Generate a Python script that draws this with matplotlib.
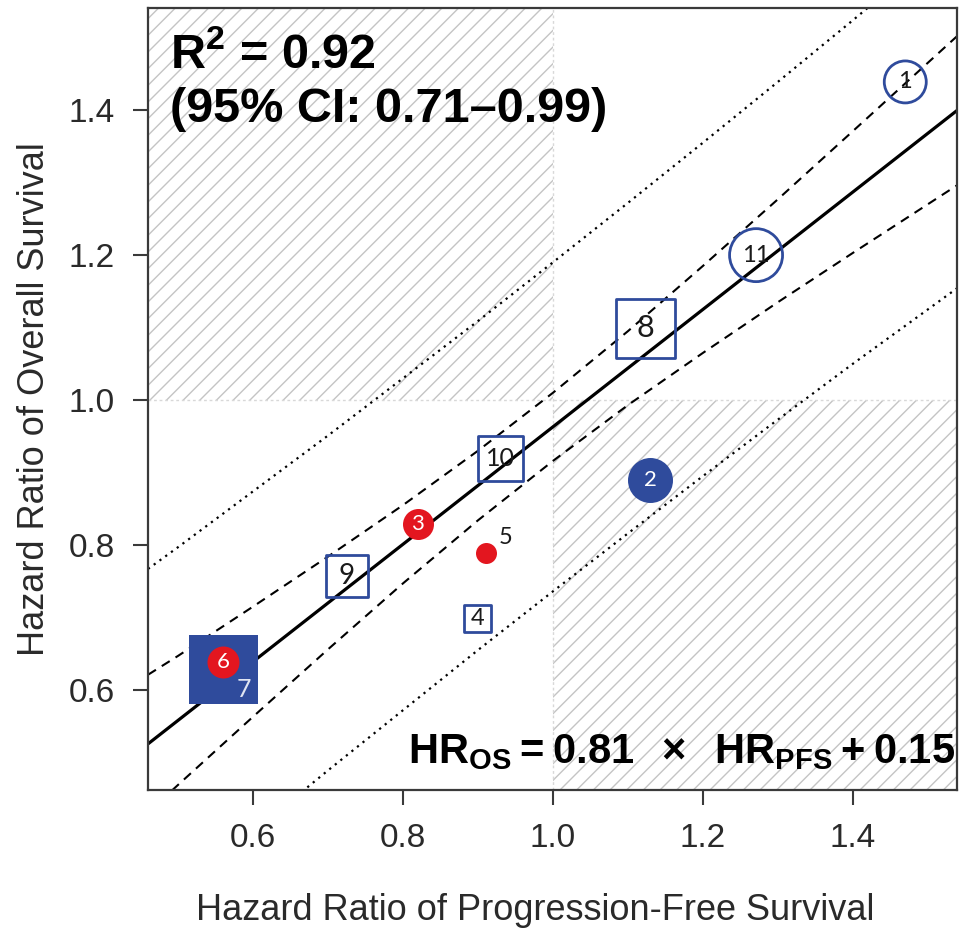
import matplotlib
matplotlib.use('Agg')
import matplotlib.pyplot as plt

plt.rcParams['font.family'] = ['Liberation Sans', 'DejaVu Sans']
plt.rcParams['mathtext.fontset'] = 'custom'
plt.rcParams['mathtext.rm'] = 'Liberation Sans'
plt.rcParams['mathtext.bf'] = 'Liberation Sans:bold'
plt.rcParams['hatch.linewidth'] = 1.0

#---------------------DATA---------------------#
study_id = ['1', '2', '3', '4', '5', '6', '7', '8', '9', '10', '11']
hr_pfs = [1.470, 1.130, 0.820, 0.900, 0.911, 0.560, 0.560, 1.124, 0.725, 0.930, 1.271]
hr_os = [1.439, 0.890, 0.829, 0.699, 0.789, 0.639, 0.629, 1.099, 0.757, 0.920, 1.200]
# marker kind: open blue square/circle, filled blue, filled red
kind = ['open_o', 'blue_o', 'red_o', 'open_s', 'red_o', 'red_o',
        'blue_s', 'open_s', 'open_s', 'open_s', 'open_o']

# regression line from the equation
fit_slope = 0.81
fit_intercept = 0.153

# bands
band_x = [0.46, 0.5, 0.6, 0.7, 0.8, 0.9, 1.0, 1.1, 1.2, 1.3, 1.4, 1.54]
conf_upper = [0.621, 0.647, 0.715, 0.784, 0.855, 0.930, 1.010, 1.095, 1.185, 1.277, 1.371, 1.503]
conf_lower = [0.431, 0.469, 0.563, 0.656, 0.747, 0.834, 0.916, 0.993, 1.065, 1.135, 1.203, 1.297]
pred_upper = [0.767, 0.797, 0.874, 0.951, 1.030, 1.109, 1.190, 1.272, 1.355, 1.439, 1.524, 1.645]
pred_lower = [0.285, 0.319, 0.404, 0.489, 0.572, 0.655, 0.736, 0.816, 0.895, 0.973, 1.050, 1.155]

ticks = [0.6, 0.8, 1.0, 1.2, 1.4]

#---------------------STYLE---------------------#
BLUE = '#2f4b9c'
RED = '#e3161f'
marker_px = [42, 45, 31, 27, 21, 32, 69, 59, 42, 45, 53]
label_pt = [17, 16, 16, 17, 17, 16, 18, 22, 20, 18, 17]
label_off = {'5': (14, 11), '7': (15, -15)}

xlim = (0.46, 1.539)
ylim = (0.462, 1.541)

fig = plt.figure(figsize=(9.61, 9.35), dpi=100)
ax = fig.add_axes([148 / 961, 1 - 790 / 935, 809 / 961, 782 / 935])

# hatched discordant quadrants
hatch_col = '#c4c4c4'
ax.fill_between([xlim[0], 1.0], 1.0, ylim[1], facecolor='none', edgecolor=hatch_col,
                hatch='//', linewidth=0, zorder=0)
ax.fill_between([1.0, xlim[1]], ylim[0], 1.0, facecolor='none', edgecolor=hatch_col,
                hatch='//', linewidth=0, zorder=0)
ax.axhline(1.0, color='#d8d8d8', lw=1, ls=(0, (2, 2)), zorder=0.5)
ax.axvline(1.0, color='#d8d8d8', lw=1, ls=(0, (2, 2)), zorder=0.5)

# regression line and bands
fit_x = [xlim[0], xlim[1]]
ax.plot(fit_x, [fit_slope * v + fit_intercept for v in fit_x], color='black', lw=2.3, zorder=2)
ax.plot(band_x, conf_upper, color='black', lw=1.5, ls=(0, (4.5, 3.3)), zorder=2)
ax.plot(band_x, conf_lower, color='black', lw=1.5, ls=(0, (4.5, 3.3)), zorder=2)
ax.plot(band_x, pred_upper, color='black', lw=1.6, ls=(0, (1.0, 2.2)), zorder=2)
ax.plot(band_x, pred_lower, color='black', lw=1.6, ls=(0, (1.0, 2.2)), zorder=2)

# study markers
for i, sid in enumerate(study_id):
    k = kind[i]
    m = 's' if k.endswith('_s') else 'o'
    s = (marker_px[i] * 0.72) ** 2
    if k.startswith('open'):
        ax.scatter(hr_pfs[i], hr_os[i], s=s, marker=m, facecolors='none',
                   edgecolors=BLUE, linewidths=2, zorder=3)
        tc = '#1a1a1a'
    else:
        col = BLUE if k.startswith('blue') else RED
        ax.scatter(hr_pfs[i], hr_os[i], s=s, marker=m, color=col, linewidths=0,
                   zorder=4 if col == RED else 3)
        tc = 'white'
    if sid == '5':
        tc = '#1a1a1a'
    if sid == '7':
        tc = '#dfe4f2'
    ax.annotate(sid, (hr_pfs[i], hr_os[i]), xytext=label_off.get(sid, (0, 0)),
                textcoords='offset points', ha='center', va='center',
                fontsize=label_pt[i], color=tc, family=['Lato', 'DejaVu Sans'], zorder=5)

# annotations
ax.text(0.027, 0.923, r'$\mathbf{R^2}$ = 0.92', transform=ax.transAxes, fontsize=35,
        fontweight='bold', va='baseline', ha='left', zorder=6)
ax.text(0.027, 0.854, '(95% CI: 0.71–0.99)', transform=ax.transAxes, fontsize=35,
        fontweight='bold', va='baseline', ha='left', zorder=6)
ax.text(0.9975, 0.0345, r'$\mathbf{HR_{OS} = 0.81\ \,\times\ \,HR_{PFS} + 0.15}$',
        transform=ax.transAxes, fontsize=30, va='baseline', ha='right', zorder=6)

ax.set_xlim(*xlim)
ax.set_ylim(*ylim)
ax.set_xticks(ticks)
ax.set_yticks(ticks)
ax.set_xticklabels(['{:.1f}'.format(t) for t in ticks])
ax.set_yticklabels(['{:.1f}'.format(t) for t in ticks])
ax.tick_params(direction='out', length=11, width=1.5, color='#3a3a3a',
               labelsize=24, labelcolor='#2a2a2a', pad=13)
for sp in ax.spines.values():
    sp.set_color('#3a3a3a')
    sp.set_linewidth(1.6)

fig.text(535 / 961, 1 - 910 / 935, 'Hazard Ratio of Progression-Free Survival',
         ha='center', va='center', fontsize=26, color='#2a2a2a')
fig.text(35 / 961, 1 - 399 / 935, 'Hazard Ratio of Overall Survival', rotation=90,
         ha='center', va='center', fontsize=26, color='#2a2a2a')

fig.savefig('out.png', dpi=100)
